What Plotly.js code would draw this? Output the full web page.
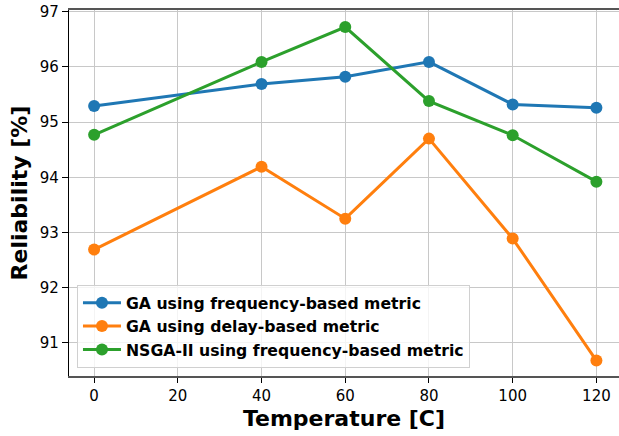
<!DOCTYPE html>
<html><head><meta charset="utf-8">
<script src="https://cdn.plot.ly/plotly-3.0.1.min.js"></script>
<style>body{margin:0;padding:0;background:#fff}#chart{width:619px;height:436px}</style>
</head><body><div id="chart"></div>
<script>
const temperature = [0, 40, 60, 80, 100, 120];
const gaFrequency = [95.29, 95.69, 95.82, 96.09, 95.32, 95.26];
const gaDelay = [92.69, 94.19, 93.25, 94.70, 92.89, 90.68];
const nsgaFrequency = [94.77, 96.09, 96.72, 95.38, 94.76, 93.92];
const seriesNames = ['GA using frequency-based metric', 'GA using delay-based metric', 'NSGA-II using frequency-based metric'];
const colors = ['#1f77b4', '#ff7f0e', '#2ca02c'];
const xTicks = [0, 20, 40, 60, 80, 100, 120];
const yTicks = [91, 92, 93, 94, 95, 96, 97];

const font = 'DejaVu Sans, sans-serif';
const series = [gaFrequency, gaDelay, nsgaFrequency];
const traces = series.map((ys, i) => ({
  x: temperature, y: ys, name: seriesNames[i], type: 'scatter', mode: 'lines+markers',
  line: {color: colors[i], width: 3}, marker: {color: colors[i], size: 12}
}));

const layout = {
  width: 619, height: 436,
  margin: {l: 69, r: 0, t: 10, b: 60},
  paper_bgcolor: '#fff', plot_bgcolor: '#fff',
  font: {family: font, color: '#000', size: 15},
  showlegend: true,
  legend: {x: 0.0145, y: 0.022, xanchor: 'left', yanchor: 'bottom',
    bgcolor: 'rgba(255,255,255,0.8)', bordercolor: '#d0d0d0', borderwidth: 1,
    font: {family: font, size: 15.7, weight: 'bold'}, itemwidth: 38, tracegroupgap: 0},
  xaxis: {range: [-6, 125.4], tickvals: xTicks, ticktext: xTicks.map(String),
    showgrid: true, gridcolor: '#c8c8c8', gridwidth: 1, zeroline: false,
    showline: true, linecolor: '#555', linewidth: 2, mirror: true,
    ticks: 'outside', ticklen: 5, tickcolor: '#000', tickfont: {size: 15},
    title: {text: 'Temperature [C]', font: {size: 22, weight: 'bold'}, standoff: 7}},
  yaxis: {range: [90.4, 97.03], tickvals: yTicks, ticktext: yTicks.map(String),
    showgrid: true, gridcolor: '#c8c8c8', gridwidth: 1, zeroline: false,
    showline: true, linecolor: '#000', linewidth: 1.2,
    ticks: 'outside', ticklen: 6, tickcolor: '#000', tickfont: {size: 15},
    title: {text: 'Reliability [%]', font: {size: 22, weight: 'bold'}, standoff: 6}}
};
Plotly.newPlot('chart', traces, layout, {displayModeBar: false, staticPlot: true});
</script></body></html>
